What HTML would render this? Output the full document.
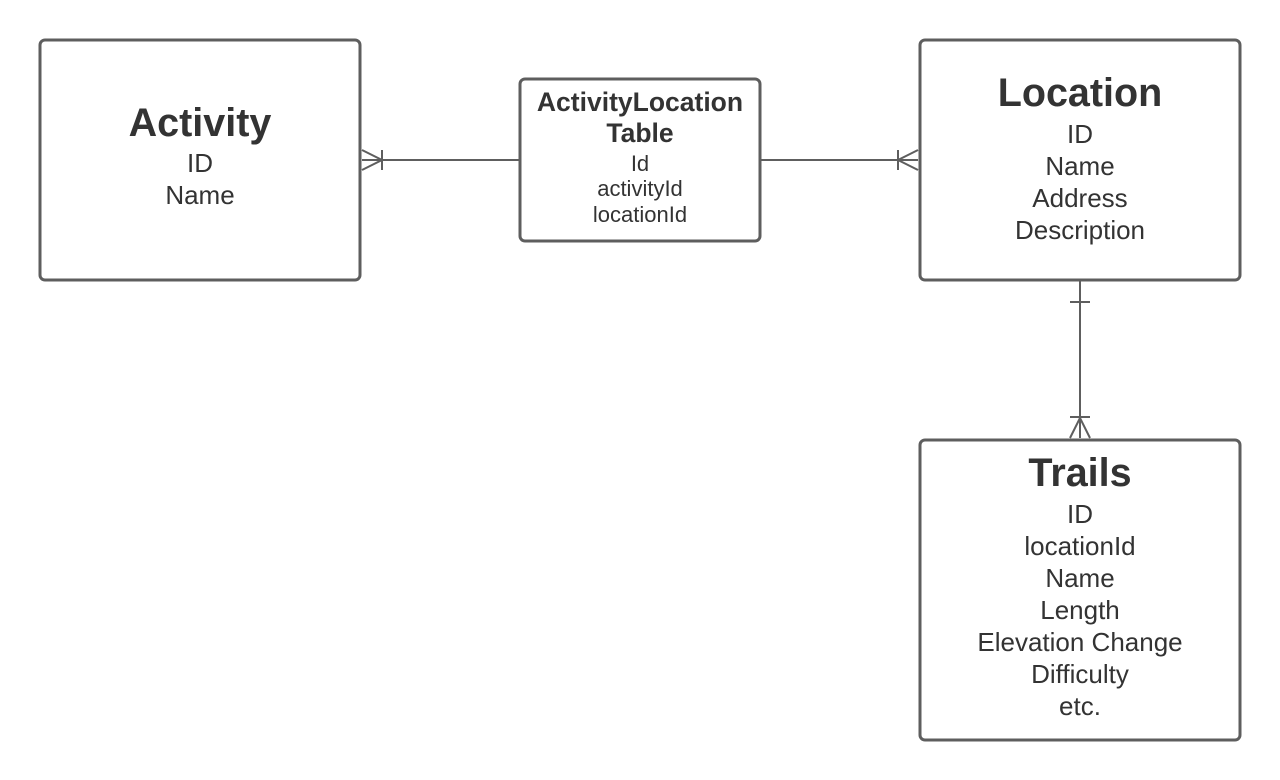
<!DOCTYPE html>
<html><head><meta charset="utf-8"><style>
html,body{margin:0;padding:0;background:#fff;}
svg{display:block}
text{font-family:"Liberation Sans",Arial,sans-serif;fill:#333;text-anchor:middle}
.t{font-weight:bold;font-size:39.5px}
.i{font-size:26px}
.jt{font-weight:bold;font-size:26.5px}
.ji{font-size:22px}
</style></head><body>
<svg width="1280" height="780" viewBox="0 0 1280 780">
<g fill="#fff" stroke="#5e5e5e" stroke-width="3">
<rect x="40" y="40" width="320" height="240" rx="5"/>
<rect x="520" y="79" width="240" height="162" rx="5"/>
<rect x="920" y="40" width="320" height="240" rx="5"/>
<rect x="920" y="440" width="320" height="300" rx="5"/>
</g>
<g fill="none" stroke="#5e5e5e" stroke-width="2">
<path d="M362 160H520M382 150V170M362 150L382 160L362 170"/>
<path d="M760 160H918M898 150V170M918 150L898 160L918 170"/>
<path d="M1080 281V438M1070 302H1090M1070 417H1090M1070 438L1080 418L1090 438"/>
</g>
<text class="t" x="200" y="136">Activity</text>
<text class="i" x="200" y="172">ID</text>
<text class="i" x="200" y="204">Name</text>
<text class="jt" x="640" y="111">ActivityLocation</text>
<text class="jt" x="640" y="142">Table</text>
<text class="ji" x="640" y="171">Id</text>
<text class="ji" x="640" y="196">activityId</text>
<text class="ji" x="640" y="222">locationId</text>
<text class="t" x="1080" y="106">Location</text>
<text class="i" x="1080" y="143">ID</text>
<text class="i" x="1080" y="175">Name</text>
<text class="i" x="1080" y="207">Address</text>
<text class="i" x="1080" y="239">Description</text>
<text class="t" x="1080" y="486">Trails</text>
<text class="i" x="1080" y="523">ID</text>
<text class="i" x="1080" y="555">locationId</text>
<text class="i" x="1080" y="587">Name</text>
<text class="i" x="1080" y="619">Length</text>
<text class="i" x="1080" y="651">Elevation Change</text>
<text class="i" x="1080" y="683">Difficulty</text>
<text class="i" x="1080" y="715">etc.</text>
</svg>
</body></html>
